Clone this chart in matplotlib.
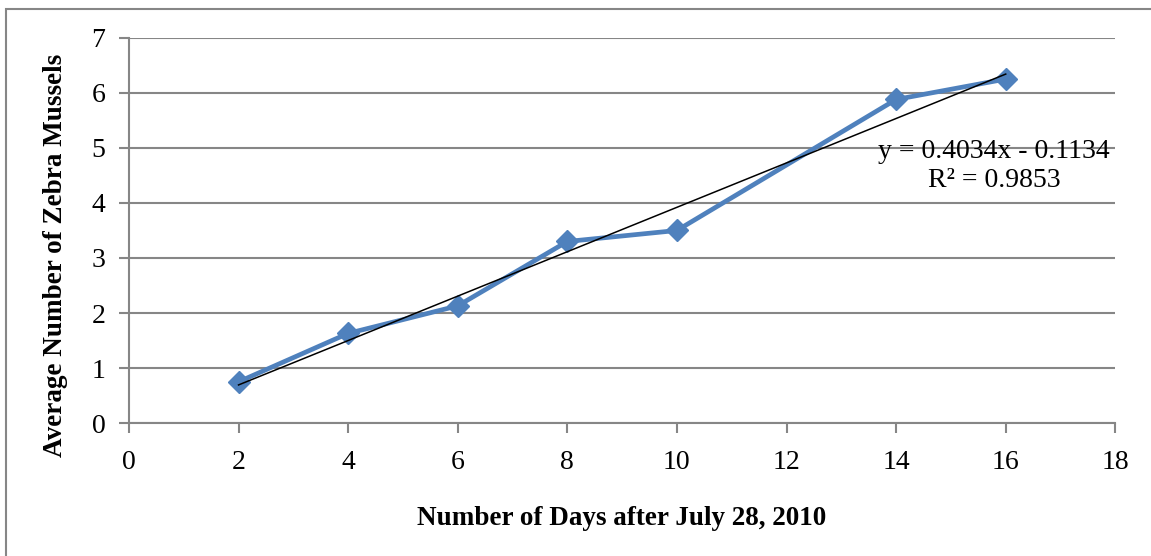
import numpy as np
from matplotlib import pyplot as plt
from matplotlib.patches import Rectangle

# values
days = [2, 4, 6, 8, 10, 14, 16]
mussels = [0.75, 1.63, 2.13, 3.30, 3.50, 5.88, 6.25]
slope = 0.4034
intercept = -0.1134
r_squared = 0.9853

x_ticks = [0, 2, 4, 6, 8, 10, 12, 14, 16, 18]
y_ticks = [0, 1, 2, 3, 4, 5, 6, 7]

plt.rcParams['font.family'] = ['Liberation Serif', 'DejaVu Serif']

grey = '#868686'
blue = '#4F81BD'

fig = plt.figure(figsize=(11.51, 5.56), dpi=100)
ax = fig.add_axes([0.112, 0.239, 0.857, 0.693])

ax.plot(days, mussels, color=blue, lw=3.4, marker='D', markersize=11,
        zorder=3)

trend_x = np.array([days[0], days[-1]])
ax.plot(trend_x, slope * trend_x + intercept, color='black', lw=1.1, zorder=4)

ax.set_xlim(0, 18)
ax.set_ylim(0, 7)
ax.set_xticks(x_ticks)
ax.set_yticks(y_ticks)
ax.yaxis.grid(True, color=grey, lw=1.5)
ax.set_axisbelow(True)
for side in ['top', 'right']:
    ax.spines[side].set_visible(False)
for side in ['left', 'bottom']:
    ax.spines[side].set_color(grey)
    ax.spines[side].set_linewidth(1.5)
ax.tick_params(axis='both', direction='out', length=7, width=1.5,
               color=grey, labelsize=20)
ax.tick_params(axis='x', pad=12)
ax.tick_params(axis='y', pad=10)

ax.set_xlabel('Number of Days after July 28, 2010', fontsize=19.5,
              fontweight='bold', labelpad=23)
ax.set_ylabel('Average Number of Zebra Mussels', fontsize=19.5,
              fontweight='bold')
ax.yaxis.set_label_coords(-0.062, 0.436)

sign = '-' if intercept < 0 else '+'
eq = 'y = %.4fx %s %.4f\nR\u00b2 = %.4f' % (slope, sign, abs(intercept),
                                            r_squared)
ax.text(0.877, 0.667, eq, transform=ax.transAxes, ha='center', va='center',
        fontsize=20, linespacing=1.2)

# outer chart border (only top and left edges fall inside the image)
fig.patches.append(Rectangle((6 / 1151, -0.1), 1.2, 1.1 - 9 / 556,
                             transform=fig.transFigure, fill=False,
                             edgecolor=grey, lw=1.5))

fig.savefig('out.png', dpi=100)
